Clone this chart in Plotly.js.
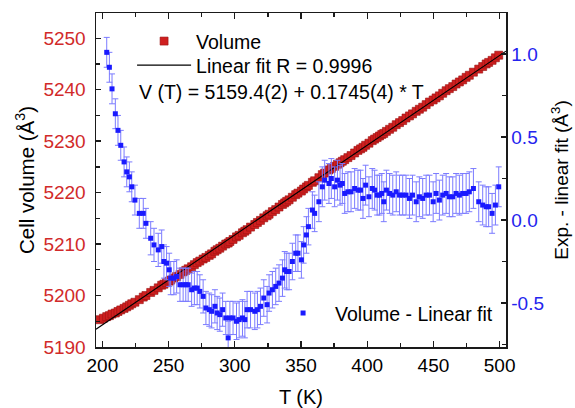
<!DOCTYPE html>
<html><head><meta charset="utf-8">
<script src="https://cdn.plot.ly/plotly-3.0.1.min.js"></script>
<style>
html,body{margin:0;padding:0;background:#fff;overflow:hidden;}
#chart{width:575px;height:408px;}
</style></head><body><div id="chart"></div>
<script>
// ---- data ----
const volumeT = [198.3,200.8,
 203.3,205.3,207.3,209.8,211.8,213.9,216.4,218.4,220.4,222.2,224.6,227.9,230.9,232.9,
 236.5,239.0,242.2,244.8,246.5,248.5,250.5,251.6,254.0,256.1,258.6,261.0,263.0,264.8,
 267.4,269.5,271.6,273.6,276.1,278.2,280.7,282.5,285.0,286.7,288.7,290.8,293.2,295.0,
 296.3,298.7,301.3,303.3,305.8,307.6,309.3,311.9,315.1,317.1,319.4,321.9,324.4,325.9,
 328.4,330.9,333.4,336.0,337.7,339.2,341.0,343.5,346.0,347.7,350.3,352.0,354.1,355.6,
 358.6,360.3,363.5,366.1,367.9,371.1,372.9,375.4,377.5,379.5,381.2,383.0,385.4,387.8,
 390.5,393.0,395.0,396.8,398.8,401.3,403.8,405.6,407.5,409.3,411.0,412.5,414.5,416.9,
 419.3,421.9,424.4,426.8,429.3,431.9,434.2,437.0,439.4,441.9,444.5,447.0,449.8,452.0,
 454.5,457.0,459.6,462.0,464.6,467.1,469.6,472.1,474.7,477.1,480.2,484.2,487.2,489.8,
 491.7,494.3,496.8,499.3];
const volume = [5195.3,5195.6,
 5195.9,5196.1,5196.4,5196.6,5196.9,5197.2,5197.5,5197.8,5198.1,5198.4,5198.7,5199.2,5199.7,5200.0,
 5200.6,5201.0,5201.5,5202.0,5202.2,5202.5,5202.8,5203.0,5203.4,5203.7,5204.1,5204.6,5204.9,5205.2,
 5205.6,5206.0,5206.4,5206.7,5207.1,5207.4,5207.8,5208.1,5208.6,5208.9,5209.2,5209.6,5210.0,5210.2,
 5210.5,5210.9,5211.4,5211.7,5212.2,5212.5,5212.8,5213.3,5213.8,5214.2,5214.6,5215.1,5215.5,5215.8,
 5216.3,5216.7,5217.2,5217.7,5218.0,5218.3,5218.6,5219.1,5219.6,5219.9,5220.3,5220.7,5221.1,5221.4,
 5222.0,5222.3,5222.9,5223.5,5223.8,5224.4,5224.7,5225.1,5225.5,5225.8,5226.1,5226.4,5226.8,5227.2,
 5227.7,5228.2,5228.5,5228.8,5229.2,5229.6,5230.1,5230.4,5230.7,5231.0,5231.3,5231.5,5231.9,5232.3,
 5232.7,5233.2,5233.6,5234.0,5234.5,5234.9,5235.3,5235.8,5236.2,5236.6,5237.1,5237.6,5238.0,5238.4,
 5238.8,5239.3,5239.8,5240.2,5240.6,5241.1,5241.5,5241.9,5242.4,5242.8,5243.4,5244.0,5244.5,5245.0,
 5245.3,5245.7,5246.2,5246.7];

const residT = [
 203.3,205.3,207.3,209.8,211.8,213.9,216.4,218.4,220.4,222.2,224.6,227.9,230.9,232.9,
 236.5,239.0,242.2,244.8,246.5,248.5,250.5,251.6,254.0,256.1,258.6,261.0,263.0,264.8,
 267.4,269.5,271.6,273.6,276.1,278.2,280.7,282.5,285.0,286.7,288.7,290.8,293.2,295.0,
 296.3,298.7,301.3,303.3,305.8,307.6,309.3,311.9,315.1,317.1,319.4,321.9,324.4,325.9,
 328.4,330.9,333.4,336.0,337.7,339.2,341.0,343.5,346.0,347.7,350.3,352.0,354.1,355.6,
 358.6,360.3,363.5,366.1,367.9,371.1,372.9,375.4,377.5,379.5,381.2,383.0,385.4,387.8,
 390.5,393.0,395.0,396.8,398.8,401.3,403.8,405.6,407.5,409.3,411.0,412.5,414.5,416.9,
 419.3,421.9,424.4,426.8,429.3,431.9,434.2,437.0,439.4,441.9,444.5,447.0,449.8,452.0,
 454.5,457.0,459.6,462.0,464.6,467.1,469.6,472.1,474.7,477.1,480.2,484.2,487.2,489.8,
 491.7,494.3,496.8,499.3];
const residual = [
 1.01,0.92,0.79,0.64,0.54,0.45,0.35,0.29,0.26,0.20,0.12,0.04,0.04,-0.02,
 -0.11,-0.15,-0.18,-0.16,-0.25,-0.26,-0.30,-0.35,-0.35,-0.34,-0.39,-0.39,-0.39,-0.39,
 -0.42,-0.41,-0.41,-0.43,-0.46,-0.53,-0.54,-0.55,-0.52,-0.56,-0.57,-0.54,-0.59,-0.71,
 -0.59,-0.59,-0.61,-0.60,-0.59,-0.60,-0.54,-0.54,-0.55,-0.54,-0.52,-0.47,-0.51,-0.44,
 -0.42,-0.40,-0.38,-0.35,-0.30,-0.31,-0.31,-0.25,-0.20,-0.20,-0.24,-0.15,-0.09,-0.04,
 0.06,0.04,0.11,0.20,0.24,0.22,0.25,0.20,0.24,0.21,0.22,0.16,0.17,0.17,
 0.19,0.18,0.18,0.13,0.21,0.14,0.19,0.18,0.15,0.15,0.16,0.11,0.18,0.16,
 0.15,0.17,0.15,0.15,0.15,0.13,0.15,0.11,0.14,0.13,0.15,0.15,0.11,0.16,
 0.12,0.15,0.16,0.14,0.14,0.16,0.15,0.16,0.16,0.17,0.19,0.11,0.09,0.08,
 0.08,0.04,0.09,0.20];
const residualErr = [
 0.09,0.09,0.09,0.09,0.09,0.09,0.09,0.09,0.09,0.09,0.09,0.09,0.09,0.09,
 0.10,0.10,0.10,0.10,0.10,0.10,0.10,0.10,0.10,0.10,0.10,0.10,0.10,0.10,
 0.10,0.10,0.10,0.10,0.10,0.10,0.10,0.10,0.10,0.10,0.10,0.10,0.10,0.10,
 0.10,0.10,0.11,0.11,0.11,0.11,0.11,0.11,0.11,0.11,0.11,0.11,0.11,0.11,
 0.11,0.11,0.11,0.11,0.11,0.11,0.11,0.11,0.11,0.11,0.11,0.11,0.11,0.11,
 0.11,0.11,0.12,0.12,0.12,0.12,0.12,0.12,0.12,0.12,0.12,0.12,0.12,0.12,
 0.12,0.12,0.12,0.12,0.12,0.12,0.12,0.12,0.12,0.12,0.12,0.12,0.12,0.12,
 0.12,0.12,0.12,0.12,0.12,0.12,0.12,0.12,0.12,0.12,0.12,0.12,0.12,0.12,
 0.12,0.12,0.12,0.12,0.12,0.12,0.12,0.12,0.12,0.12,0.12,0.12,0.12,0.12,
 0.12,0.12,0.12,0.12];

// linear fit V(T) = a + b*T, drawn over the axis span
const fitIntercept = 5159.4;
const fitSlope = 0.1745;
const fitT = [195.2, 504.8];
const fitV = fitT.map(t => fitIntercept + fitSlope * t);

const xTicks = [200, 250, 300, 350, 400, 450, 500];
const yTicks = [5190, 5200, 5210, 5220, 5230, 5240, 5250];
const y2Ticks = [-0.5, 0.0, 0.5, 1.0];
const y2TickText = ['-0.5', '0.0', '0.5', '1.0'];

// ---- styling ----
const FONT = 'Liberation Sans, Arial, Helvetica, sans-serif';
const RED = '#d12a2a';
const BLUE = '#2424ee';
const AX = '#1a1a1a';
const nb = n => '\u00A0'.repeat(n);

const traces = [
 {x: volumeT, y: volume, type: 'scatter', mode: 'markers', name: 'Volume',
  marker: {symbol: 'square', size: 8, color: '#cf1f1f', line: {color: '#9a1010', width: 0.6}},
  legend: 'legend'},
 {x: fitT, y: fitV, type: 'scatter', mode: 'lines', name: 'Linear fit R = 0.9996',
  line: {color: '#000', width: 1.1}, legend: 'legend2'},
 {x: residT, y: residual, type: 'scatter', mode: 'markers', name: 'Volume - Linear fit',
  yaxis: 'y2', legend: 'legend3',
  marker: {symbol: 'square', size: 5, color: '#1a1aff'},
  error_y: {type: 'data', array: residualErr, visible: true, color: '#7b7bff', thickness: 1, width: 3}}
];

const legendCommon = {
 bgcolor: 'rgba(0,0,0,0)', borderwidth: 0, itemwidth: 54, xanchor: 'left', yanchor: 'middle',
 font: {family: FONT, size: 19.5, color: '#000'}, itemclick: false
};

const layout = {
 width: 575, height: 408,
 margin: {l: 96, r: 69.3, t: 12.7, b: 61.3, autoexpand: false},
 paper_bgcolor: '#fff', plot_bgcolor: '#fff',
 font: {family: FONT, size: 19, color: '#000'},
 showlegend: true,
 legend: Object.assign({}, legendCommon, {x: 0.088, y: 0.915}),
 legend2: Object.assign({}, legendCommon, {x: 0.088, y: 0.843}),
 legend3: Object.assign({}, legendCommon, {x: 0.427, y: 0.101}),
 xaxis: {
  range: [195.2, 504.8], tickmode: 'array', tickvals: xTicks,
  ticks: 'inside', ticklen: 6, tickwidth: 1.3, tickcolor: AX,
  showline: true, linecolor: AX, linewidth: 1.5, mirror: 'ticks',
  showgrid: false, zeroline: false, ticklabelstandoff: 1,
  tickfont: {family: FONT, size: 19, color: '#000'},
  minor: {tickvals: [225, 275, 325, 375, 425, 475], ticks: 'inside', ticklen: 4, tickwidth: 1.3, tickcolor: AX, showgrid: false},
  title: {text: 'T (K)', font: {family: FONT, size: 20, color: '#000'}, standoff: 15}
 },
 yaxis: {
  range: [5190, 5254.9], tickmode: 'array', tickvals: yTicks,
  ticks: 'inside', ticklen: 5, tickwidth: 1.3, tickcolor: AX,
  showline: true, linecolor: AX, linewidth: 1.5, mirror: false,
  showgrid: false, zeroline: false, ticklabelstandoff: 5,
  tickfont: {family: FONT, size: 19, color: RED},
  minor: {tickvals: [5195, 5205, 5215, 5225, 5235, 5245], ticks: 'inside', ticklen: 4, tickwidth: 1.3, tickcolor: AX, showgrid: false},
  title: {text: 'Cell volume (Å<sup>3</sup>)' + nb(5), font: {family: FONT, size: 20.5, color: '#000'}, standoff: 3}
 },
 yaxis2: {
  overlaying: 'y', side: 'right', anchor: 'x',
  range: [-0.765, 1.247], tickmode: 'array', tickvals: y2Ticks, ticktext: y2TickText,
  ticks: 'inside', ticklen: 5, tickwidth: 1.3, tickcolor: AX,
  showline: true, linecolor: AX, linewidth: 1.5,
  showgrid: false, zeroline: false,
  tickfont: {family: FONT, size: 19, color: BLUE},
  minor: {tickvals: [-0.75, -0.25, 0.25, 0.75], ticks: 'inside', ticklen: 4, tickwidth: 1.3, tickcolor: AX, showgrid: false},
  title: {text: nb(8) + 'Exp. - linear fit (Å<sup>3</sup>)', font: {family: FONT, size: 19, color: '#000'}, standoff: 11}
 },
 annotations: [
  {xref: 'paper', yref: 'paper', x: 0.1, y: 0.764, xanchor: 'left', yanchor: 'middle', showarrow: false,
   text: 'V (T) = 5159.4(2) + 0.1745(4) * T', font: {family: FONT, size: 19.5, color: '#000'}}
 ]
};

Plotly.newPlot('chart', traces, layout, {staticPlot: true, displayModeBar: false});
</script>
</body></html>
